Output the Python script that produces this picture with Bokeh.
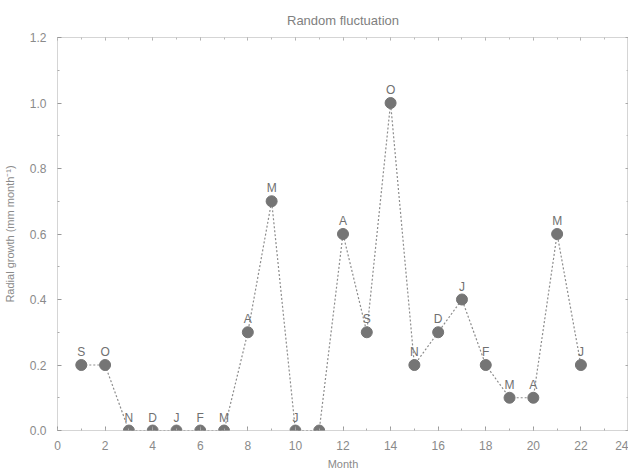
from bokeh.plotting import figure
from bokeh.models import (ColumnDataSource, LinearAxis, Range1d, SingleIntervalTicker,
                          FixedTicker, CustomJSTickFormatter)
from bokeh.embed import file_html
from bokeh.resources import INLINE
from bokeh.core.properties import value

months = list(range(1, 23))
growth = [0.2, 0.2, 0.0, 0.0, 0.0, 0.0, 0.0, 0.3, 0.7, 0.0, 0.0,
          0.6, 0.3, 1.0, 0.2, 0.3, 0.4, 0.2, 0.1, 0.1, 0.6, 0.2]
month_labels = ["S", "O", "N", "D", "J", "F", "M", "A", "M", "J", "",
                "A", "S", "O", "N", "D", "J", "F", "M", "A", "M", "J"]
y_ticks = [0.0, 0.2, 0.4, 0.6, 0.8, 1.0, 1.2]
y_minor = [0.1, 0.3, 0.5, 0.7, 0.9, 1.1]

FONT = "Liberation Sans"
GRAY = "#808080"

src = ColumnDataSource(dict(x=months, y=growth, lab=month_labels))
pos = ColumnDataSource(dict(x=[m for m, g in zip(months, growth) if g > 0],
                            y=[g for g in growth if g > 0]))
zero = ColumnDataSource(dict(x=[m for m, g in zip(months, growth) if g == 0],
                             y=[g for g in growth if g == 0]))

p = figure(frame_width=571, frame_height=393, output_backend="svg", toolbar_location=None,
           x_range=Range1d(0, 24), y_range=Range1d(0, 1.2),
           min_border_left=49, min_border_right=0, min_border_top=37, min_border_bottom=0)
p.title.text = "Random fluctuation"
p.title.align = "center"
p.title.text_font = FONT
p.title.text_font_size = "13px"
p.title.text_font_style = "normal"
p.title.text_color = GRAY
p.title.standoff = 19

p.grid.visible = False
p.outline_line_color = "#aaaaaa"
p.outline_line_dash = "1 1"
p.outline_line_width = 1

p.xaxis.ticker = SingleIntervalTicker(interval=2, num_minor_ticks=2)
p.yaxis.ticker = FixedTicker(ticks=y_ticks, minor_ticks=y_minor)
p.xaxis.axis_label = "Month"
p.yaxis.axis_label = "Radial growth (mm month\u207b\u00b9)"
p.yaxis.formatter = CustomJSTickFormatter(code="return tick.toFixed(1);")

for ax in [p.xaxis[0], p.yaxis[0]]:
    ax.axis_line_color = None
    ax.major_tick_in = 4
    ax.major_tick_out = 0
    ax.minor_tick_in = 2
    ax.minor_tick_out = 0
    ax.major_tick_line_color = "#999999"
    ax.minor_tick_line_color = "#aaaaaa"
    ax.major_label_text_font = FONT
    ax.major_label_text_font_size = "12px"
    ax.major_label_text_color = "#8a8a8a"
    ax.axis_label_text_font = FONT
    ax.axis_label_text_font_size = "11px"
    ax.axis_label_text_font_style = "normal"
    ax.axis_label_text_color = "#8a8a8a"
p.xaxis.major_label_standoff = 10
p.xaxis.axis_label_standoff = 5
p.yaxis.major_label_standoff = 11
p.yaxis.axis_label_standoff = 11

for side, ticker in [("above", SingleIntervalTicker(interval=2, num_minor_ticks=2)),
                     ("right", FixedTicker(ticks=y_ticks, minor_ticks=y_minor))]:
    ax = LinearAxis(ticker=ticker)
    ax.axis_line_color = None
    ax.major_tick_in = 3
    ax.major_tick_out = 0
    ax.minor_tick_in = 2
    ax.minor_tick_out = 0
    ax.major_tick_line_color = "#aaaaaa"
    ax.minor_tick_line_color = "#bbbbbb"
    ax.major_label_text_color = None
    ax.major_label_text_font_size = "1px"
    ax.major_label_standoff = 0
    p.add_layout(ax, side)

p.line("x", "y", source=src, line_color="#8c8c8c", line_dash="2 2", line_width=1.2)
p.scatter("x", "y", source=pos, size=11, fill_color="#757575", line_color="#757575")
p.wedge("x", "y", source=zero, radius=0.23,
        start_angle=0.0, end_angle=3.14159, direction="anticlock",
        fill_color="#757575", line_color="#757575")
p.text("x", "y", text="lab", source=src, y_offset=-6, text_align="center",
       text_baseline="bottom", text_font=value(FONT), text_font_size="12px",
       text_color="#707070")

open("out.html", "w").write(file_html(p, INLINE))
